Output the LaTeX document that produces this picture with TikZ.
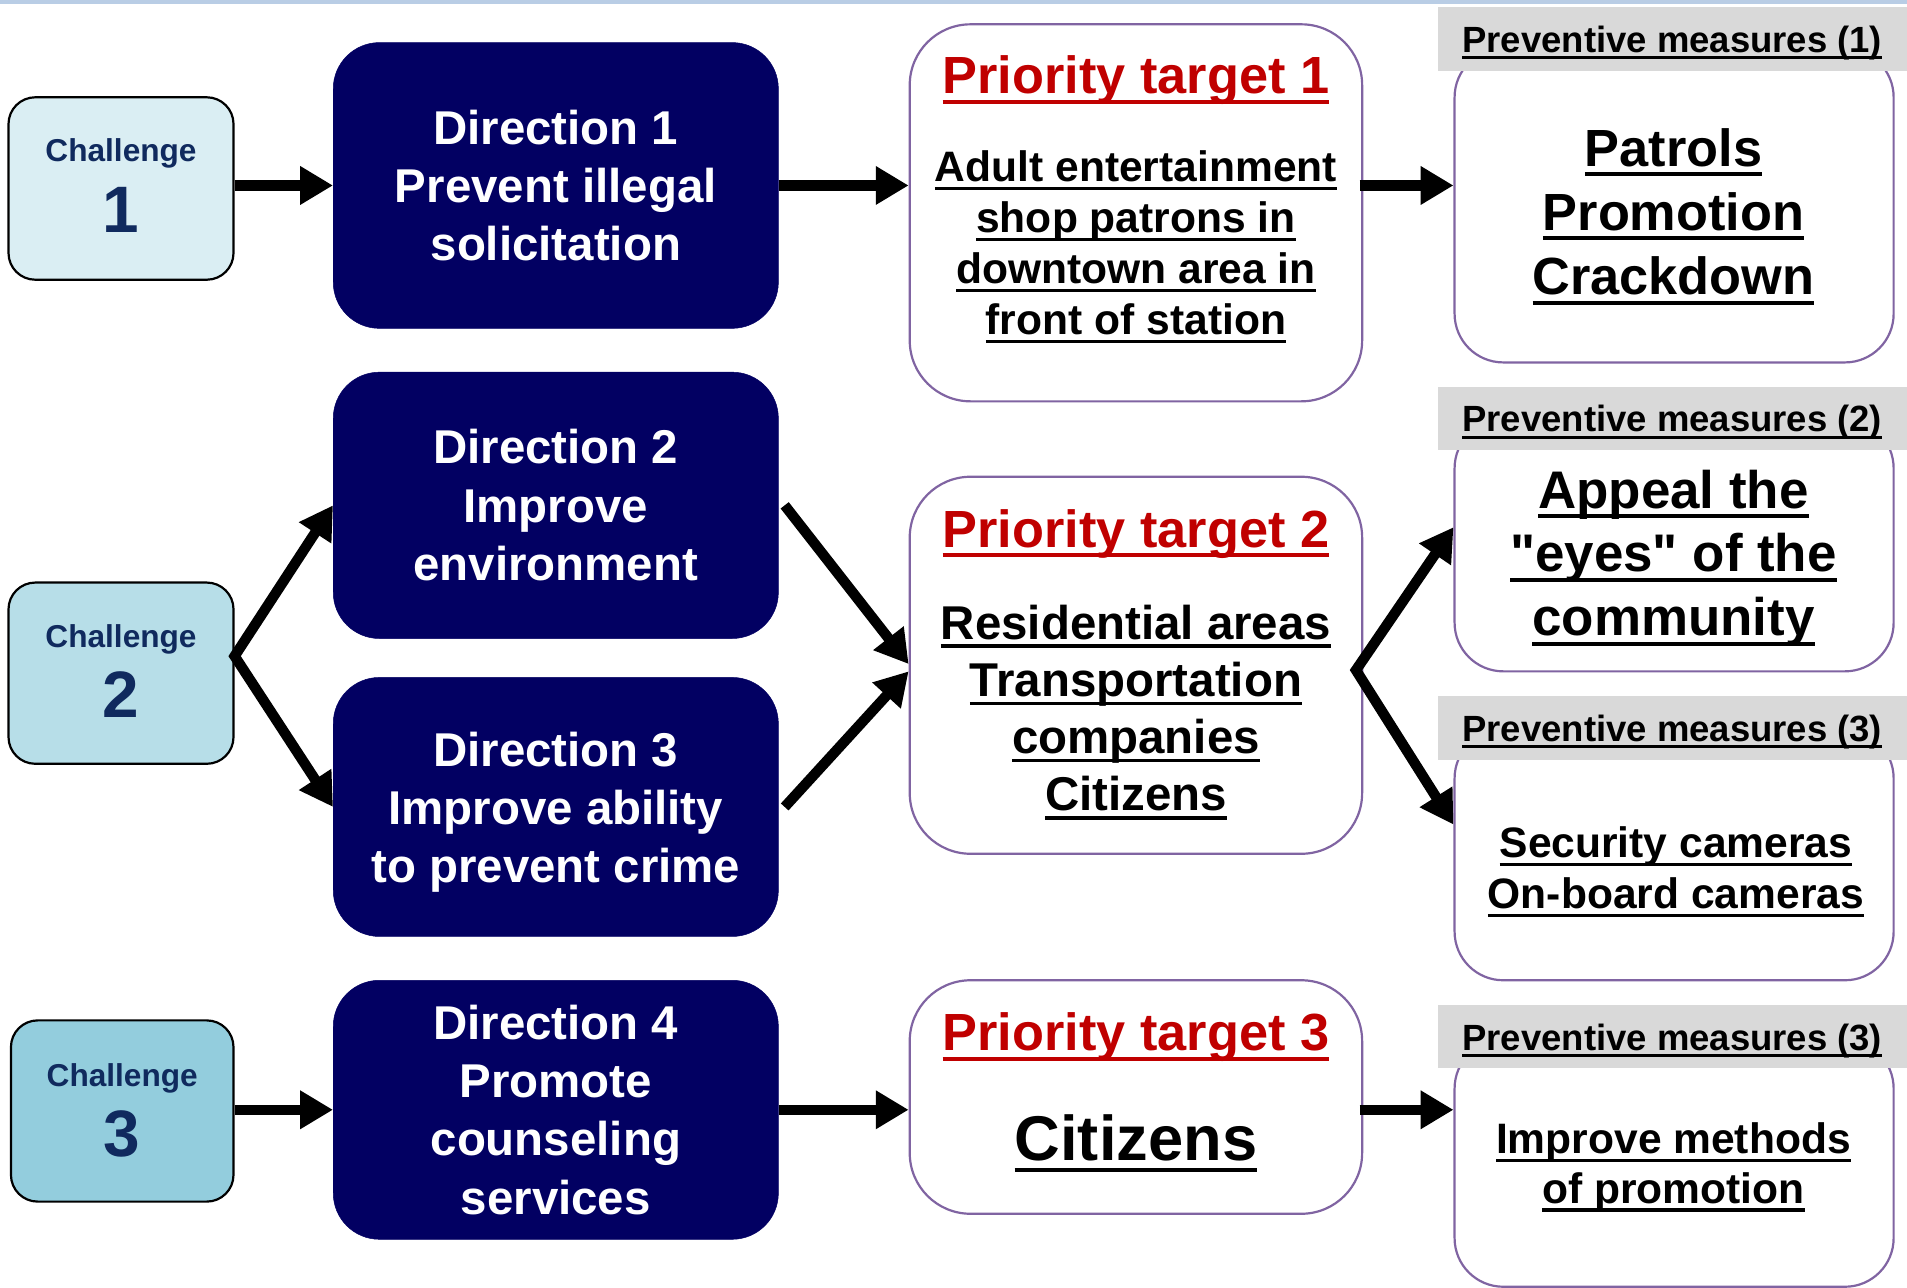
\documentclass[tikz,border=0pt]{standalone}
\usepackage{fontspec}
\setmainfont{Liberation Sans}[Ligatures=TeXOff]
\usetikzlibrary{arrows.meta,calc}
\definecolor{navy}{HTML}{020062}
\definecolor{chaltext}{HTML}{102A5E}
\definecolor{purp}{HTML}{8064A2}
\definecolor{redt}{HTML}{C00000}
\definecolor{lblgray}{HTML}{D9D9D9}
\definecolor{topband}{HTML}{B9CDE5}
\definecolor{chA}{HTML}{DAEEF3}
\definecolor{chB}{HTML}{B7DEE8}
\definecolor{chC}{HTML}{93CDDD}
\newcommand{\ulx}[1]{\setbox0=\hbox{#1}\rlap{\rule[-0.19em]{\wd0}{0.075em}}\box0}
\newcommand{\fsz}[2]{\fontsize{#1}{#2}\selectfont}
\begin{document}
\begin{tikzpicture}[x=1pt,y=-1pt,
  chal/.style={draw=black, line width=1.8pt, rounded corners=22pt, minimum width=185pt, inner sep=0pt},
  chaltxt/.style={anchor=base, text=chaltext, font=\bfseries\fsz{26}{30}, inner sep=0pt},
  chalnum/.style={anchor=base, text=chaltext, font=\bfseries\fsz{54}{60}, inner sep=0pt},
  dirbox/.style={fill=navy, draw=navy, rounded corners=38pt, minimum width=366pt, inner sep=0pt, text=white, font=\bfseries\fsz{39}{48}, align=center},
  ptbox/.style={draw=purp, line width=1.8pt, fill=white, rounded corners=50pt, minimum width=372pt, inner sep=0pt},
  pttitle/.style={anchor=base, text=redt, font=\bfseries\fsz{43}{50}, inner sep=0pt},
  bodytxt/.style={align=center, font=\bfseries, inner sep=0pt},
  pmbox/.style={draw=purp, line width=1.8pt, fill=white, rounded corners=40pt, minimum width=361pt, inner sep=0pt},
  pmlbl/.style={fill=lblgray, minimum width=386pt, minimum height=52pt, inner sep=0pt, text height=27pt, text depth=5pt, font=\bfseries\fsz{30}{34}},
  arr/.style={line width=8.5pt, -{Triangle[length=27pt,width=30pt]}},
  darr/.style={line width=8.5pt, line join=miter, {Triangle[length=27pt,width=30pt]}-{Triangle[length=27pt,width=30pt]}}
]
\useasboundingbox (0,0) rectangle (1568,1059);
\fill[topband] (0,0) rectangle (1568,3.5);

% Challenges
\node[chal, fill=chA, minimum height=150pt] (ch1) at (99.5,155) {};
\node[chal, fill=chB, minimum height=149pt] (ch2) at (99.5,553.5) {};
\node[chal, fill=chC, minimum height=149pt, minimum width=183pt] (ch3) at (100.5,913.5) {};
\node[chaltxt] (ch1t) at (99.5,133) {Challenge};
\node[chalnum] (ch1n) at (99.5,191) {1};
\node[chaltxt] (ch2t) at (99.5,532) {Challenge};
\node[chalnum] (ch2n) at (99.5,590) {2};
\node[chaltxt] (ch3t) at (100.5,893) {Challenge};
\node[chalnum] (ch3n) at (100.5,951) {3};

% Directions
\node[dirbox, minimum height=235pt] (d1) at (457,152.5) {Direction 1\\Prevent illegal\\solicitation};
\node[dirbox, minimum height=219pt] (d2) at (457,415.5) {Direction 2\\Improve\\environment};
\node[dirbox, minimum height=213pt] (d3) at (457,663.5) {\rule{0pt}{0.95em}Direction 3\\Improve ability\\to prevent crime};
\node[dirbox, minimum height=213pt] (d4) at (457,912.5) {Direction 4\\Promote\\counseling\\services};

% Priority targets
\node[ptbox, minimum height=310pt] (pt1) at (934,175) {};
\node[ptbox, minimum height=310pt] (pt2) at (934,547) {};
\node[ptbox, minimum height=192pt] (pt3) at (934,902) {};
\node[pttitle] (pt1t) at (934,77) {\ulx{Priority target 1}};
\node[pttitle] (pt2t) at (934,450) {\ulx{Priority target 2}};
\node[pttitle] (pt3t) at (934,864) {\ulx{Priority target 3}};
\node[bodytxt, font=\bfseries\fsz{35}{42}] (pt1b) at (934,203) {\ulx{Adult entertainment}\\\ulx{shop patrons in}\\\ulx{downtown area in}\\\ulx{front of station}};
\node[bodytxt, font=\bfseries\fsz{39}{47}] (pt2b) at (934,585.5) {\ulx{Residential areas}\\\ulx{Transportation}\\\ulx{companies}\\\ulx{Citizens}};
\node[anchor=base, font=\bfseries\fsz{52}{60}, inner sep=0pt] (pt3b) at (934,954) {\ulx{Citizens}};

% Preventive measures boxes
\node[pmbox, minimum height=258pt] (pm1) at (1376.5,169) {};
\node[pmbox, minimum height=207pt] (pm2) at (1376.5,448.5) {};
\node[pmbox, minimum height=206pt] (pm3) at (1376.5,703) {};
\node[pmbox, minimum height=203pt] (pm4) at (1376.5,956.5) {};
\node[pmlbl] (pl1) at (1375,32) {\ulx{Preventive measures (1)}};
\node[pmlbl] (pl2) at (1375,344) {\ulx{Preventive measures (2)}};
\node[pmlbl] (pl3) at (1375,598.5) {\ulx{Preventive measures (3)}};
\node[pmlbl] (pl4) at (1375,852.5) {\ulx{Preventive measures (3)}};
\node[bodytxt, font=\bfseries\fsz{43}{53}] (pm1b) at (1376,178) {\ulx{Patrols}\\\ulx{Promotion}\\\ulx{Crackdown}};
\node[bodytxt, font=\bfseries\fsz{43.5}{52.5}] (pm2b) at (1376,459) {\ulx{Appeal the}\\\ulx{"eyes" of the}\\\ulx{community}};
\node[bodytxt, font=\bfseries\fsz{35}{42}] (pm3b) at (1378,717) {\ulx{Security cameras}\\\ulx{On-board cameras}};
\node[bodytxt, font=\bfseries\fsz{35}{41}] (pm4b) at (1376,960) {\ulx{Improve methods}\\\ulx{of promotion}};

% Arrows row 1
\draw[arr] (ch1.east |- d1.west) -- (d1.west);
\draw[arr] (d1.east) -- (d1.east -| pt1.west);
\draw[arr] ([xshift=-3pt]pt1.east |- d1.east) -- (pm1.west |- d1.east);

% Arrows row 2
\coordinate (c2s) at ([yshift=14pt]ch2.east);
\draw[darr] (d2.west) -- (c2s) -- (d3.west);
\draw[arr] ([xshift=5pt]d2.east) -- ([yshift=1pt]pt2.west);
\draw[arr] ([xshift=5pt]d3.east) -- ([yshift=-5pt]pt2.west);
\coordinate (p2s) at ([xshift=-6pt,yshift=-4pt]pt2.east);
\draw[darr] ([yshift=15pt]pm2.west) -- (p2s) -- ([yshift=25pt]pm3.west);

% Arrows row 3
\draw[arr] (ch3.east |- d4.west) -- (d4.west);
\draw[arr] (d4.east) -- (d4.east -| pt3.west);
\draw[arr] ([xshift=-3pt]pt3.east |- d4.east) -- (pm4.west |- d4.east);
\end{tikzpicture}
\end{document}
